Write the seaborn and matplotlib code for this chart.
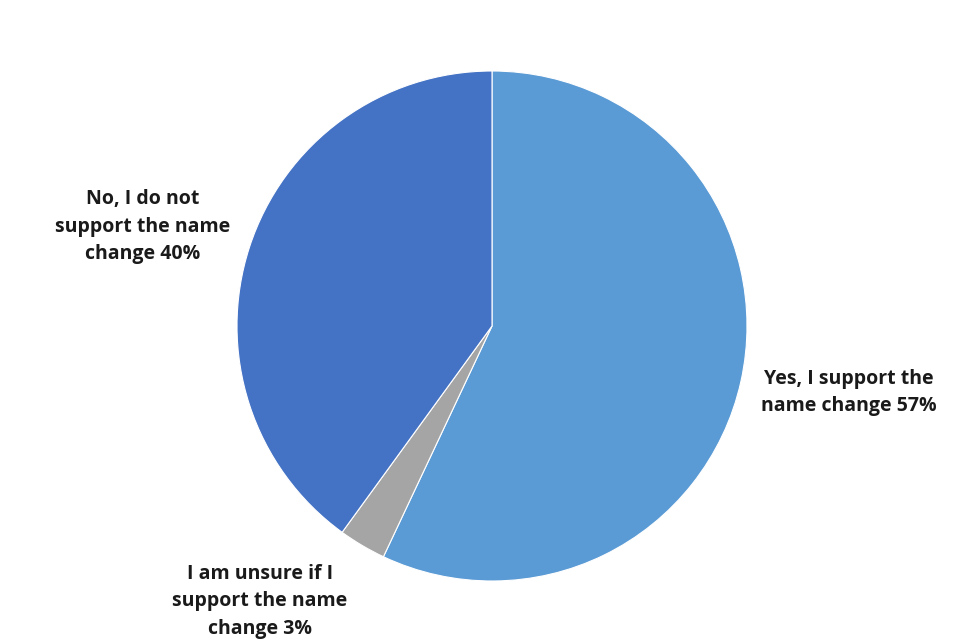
import matplotlib
matplotlib.use("Agg")
import matplotlib.pyplot as plt
import seaborn as sns

# survey answers, clockwise from the top
answers = ["Yes, I support the\nname change", "I am unsure if I\nsupport the name\nchange", "No, I do not\nsupport the name\nchange"]
shares = [57, 3, 40]
colors = ["#5B9BD5", "#A5A5A5", "#4472C4"]

sns.set_theme(style="white")
plt.rcParams["font.family"] = ["Open Sans", "DejaVu Sans"]

fig = plt.figure(figsize=(9.64, 6.44), dpi=100)
# square axes so the pie lands where it sits in the reference
cx, cy, r = 492, 326, 255
ax = fig.add_axes([(cx - r) / 964, (644 - cy - r) / 644, 2 * r / 964, 2 * r / 644])

ax.pie(shares, colors=colors, startangle=90, counterclock=False,
       wedgeprops={"edgecolor": "white", "linewidth": 0.8})
ax.set_xlim(-1, 1)
ax.set_ylim(-1, 1)
ax.axis("off")

# label spots (data units, radius = 1)
label_pos = [(1.40, -0.26), (-0.91, -1.08), (-1.37, 0.39)]
for name, val, (x, y) in zip(answers, shares, label_pos):
    ax.text(x, y, f"{name} {val}%", ha="center", va="center",
            fontsize=14, fontweight="bold", color="#1a1a1a", linespacing=1.5)

fig.savefig("out.png", dpi=100, facecolor="white")
